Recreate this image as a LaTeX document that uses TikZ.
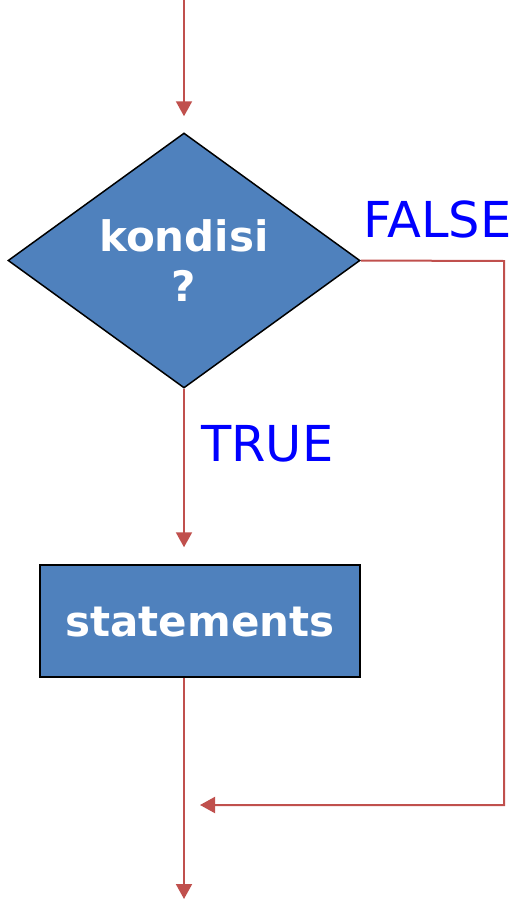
\documentclass[tikz,border=0pt]{standalone}
\usepackage{fontspec}
\newfontfamily\dv{DejaVu Sans}
\usetikzlibrary{arrows.meta,shapes.geometric}
\definecolor{boxblue}{HTML}{4F81BD}
\definecolor{arrred}{HTML}{C0504D}
\definecolor{lblblue}{HTML}{0000FF}
\tikzset{
  arr/.style={draw=arrred, line width=2pt, -{Triangle[width=16pt,length=15pt]}},
  shapebox/.style={fill=boxblue, draw=black, line width=1.5pt, inner sep=0pt},
  btext/.style={text=white, font=\dv\bfseries\fontsize{42}{50}\selectfont, align=center, inner sep=0pt},
  lbl/.style={text=lblblue, font=\dv\fontsize{49.5}{56}\selectfont, inner sep=0pt, anchor=base west}
}
\begin{document}
\begin{tikzpicture}[x=1pt,y=-1pt]
\useasboundingbox (0,0) rectangle (513,899);
\node[shapebox, diamond, minimum width=352pt, minimum height=255pt] (d) at (184,260.5) {};
\node[btext] (dt) at (184,261) {kondisi\\?};
\node[shapebox, rectangle, minimum width=320pt, minimum height=112pt] (r) at (200,621) {};
\node[btext] (rt) at (200,622) {statements};
\coordinate (top) at (184,0);
\coordinate (corner1) at (504,261);
\coordinate (corner2) at (504,805);
\coordinate (join) at (200,805);
\coordinate (bottom) at (184,899);
\draw[arr] (top) -- ([yshift=16pt]d.north);
\draw[arr] (d.south) -- ([yshift=17pt]r.north -| d.south);
\draw[arr] (d.east) -- (corner1) -- (corner2) -- (join);
\draw[arr] (d.south |- r.south) -- (bottom);
\node[lbl] (tl) at (201,461) {TRUE};
\node[lbl] (fl) at (363,237) {FALSE};
\end{tikzpicture}
\end{document}
